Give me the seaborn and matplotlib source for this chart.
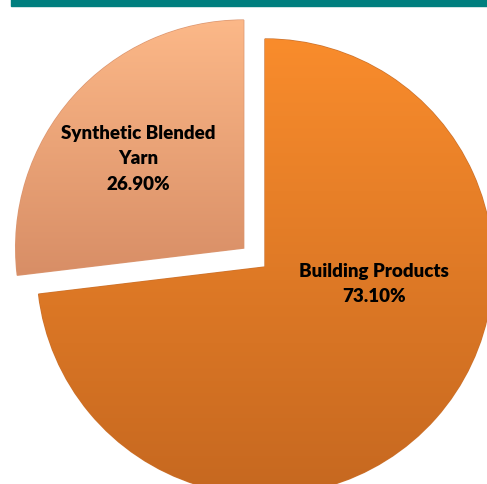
import numpy as np
import matplotlib
matplotlib.use("Agg")
import matplotlib.pyplot as plt
import matplotlib.colors as mcolors
from matplotlib.patches import Rectangle
import seaborn as sns

categories = ["Building Products", "Synthetic Blended\nYarn"]
shares = [73.10, 26.90]
explode_frac = [0.0, 0.125]
top_colors = ["#F98C2C", "#FCB888"]
bottom_colors = ["#C66820", "#D88E66"]
label_pos = [(374, 201), (138, 326)]

sns.set_theme(style="white")
plt.rcParams['font.family'] = ['Lato', 'DejaVu Sans']

fig = plt.figure(figsize=(4.87, 4.85), dpi=100)
fig.patch.set_facecolor("white")
fig.patches.append(Rectangle((11 / 487, 1 - 7 / 485), 1 - 11 / 487, 7 / 485,
                             transform=fig.transFigure, color="#007F7F", zorder=5))

ax = fig.add_axes([0, 0, 1, 1])
center = (265, 217)
radius = 228
wedges, _ = ax.pie(shares, explode=[e * radius for e in explode_frac],
                   startangle=90, counterclock=False,
                   center=center, radius=radius, colors=top_colors,
                   wedgeprops=dict(linewidth=1.0))
ax.set_xlim(0, 487)
ax.set_ylim(0, 485)
ax.set_aspect("equal")
ax.axis("off")

for w, ct, cb in zip(wedges, top_colors, bottom_colors):
    w.set_edgecolor(mcolors.to_rgba(cb, 0.9))
    cmap = mcolors.LinearSegmentedColormap.from_list("g", [cb, ct])
    grad = np.linspace(0, 1, 256).reshape(-1, 1)
    bb = w.get_path().get_extents(w.get_patch_transform() + w.get_transform() - ax.transData)
    im = ax.imshow(grad, cmap=cmap, origin="lower", aspect="auto",
                   extent=(bb.x0, bb.x1, bb.y0, bb.y1), zorder=1.5)
    im.set_clip_path(w)
    w.set_zorder(1)
ax.set_xlim(0, 487)
ax.set_ylim(0, 485)

for cat, val, (x, y) in zip(categories, shares, label_pos):
    ax.text(x, y, f"{cat}\n{val:.2f}%", ha="center", va="center",
            fontsize=13.5, fontweight="heavy", color="black", linespacing=1.6, zorder=3)

fig.savefig("out.png", dpi=100)
